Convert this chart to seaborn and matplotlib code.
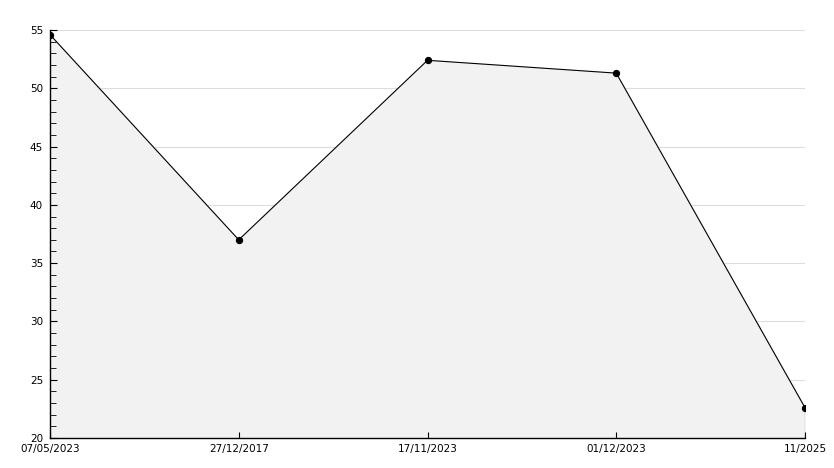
import matplotlib
matplotlib.use("Agg")
import matplotlib.pyplot as plt
from matplotlib.ticker import MultipleLocator
import numpy as np
import pandas as pd
import seaborn as sns

# datos
fechas = ['07/05/2023', '27/12/2017', '17/11/2023', '01/12/2023', '11/2025']
valores = [54.6, 37.0, 52.4, 51.3, 22.6]

sns.set_style("white")
plt.rcParams['font.family'] = ['DejaVu Sans']

df = pd.DataFrame({'pos': np.arange(len(fechas)), 'valor': valores})

fig = plt.figure(figsize=(8.34, 4.68), dpi=100)
ax = fig.add_axes([50/834, 30/468, 755/834, 408/468])

# lineas de la grilla detras del area
for y in range(25, 56, 5):
    ax.axhline(y, color='#dddddd', linewidth=0.8, zorder=0.2)

# area gris bajo la linea
ax.fill_between(df['pos'], df['valor'], 20, color='#f2f2f2', zorder=1)
ax.plot([df['pos'].iloc[-1]] * 2, [20, df['valor'].iloc[-1]], color='black', lw=0.8, zorder=2)
sns.lineplot(data=df, x='pos', y='valor', ax=ax, color='black', linewidth=0.8,
             marker='o', markersize=4.5, markeredgecolor='black', zorder=3)

ax.set_xlim(0, len(fechas) - 1)
ax.set_ylim(20, 55)
ax.set_xticks(df['pos'])
ax.set_xticklabels(fechas)
ax.yaxis.set_major_locator(MultipleLocator(5))
ax.yaxis.set_minor_locator(MultipleLocator(1))
ax.grid(False)
ax.set_axisbelow('line')

ax.tick_params(axis='both', which='both', direction='in', labelsize=7.5,
               color='black', labelcolor='black')
ax.tick_params(axis='y', which='major', length=5, left=True, pad=5)
ax.tick_params(axis='y', which='minor', length=4, left=True)
ax.tick_params(axis='x', which='major', length=4, bottom=True, pad=4)

for lado in ['top', 'right']:
    ax.spines[lado].set_visible(False)
for lado in ['left', 'bottom']:
    ax.spines[lado].set_color('black')
    ax.spines[lado].set_linewidth(1)

ax.set_xlabel('')
ax.set_ylabel('')

fig.savefig('out.png', dpi=100)
